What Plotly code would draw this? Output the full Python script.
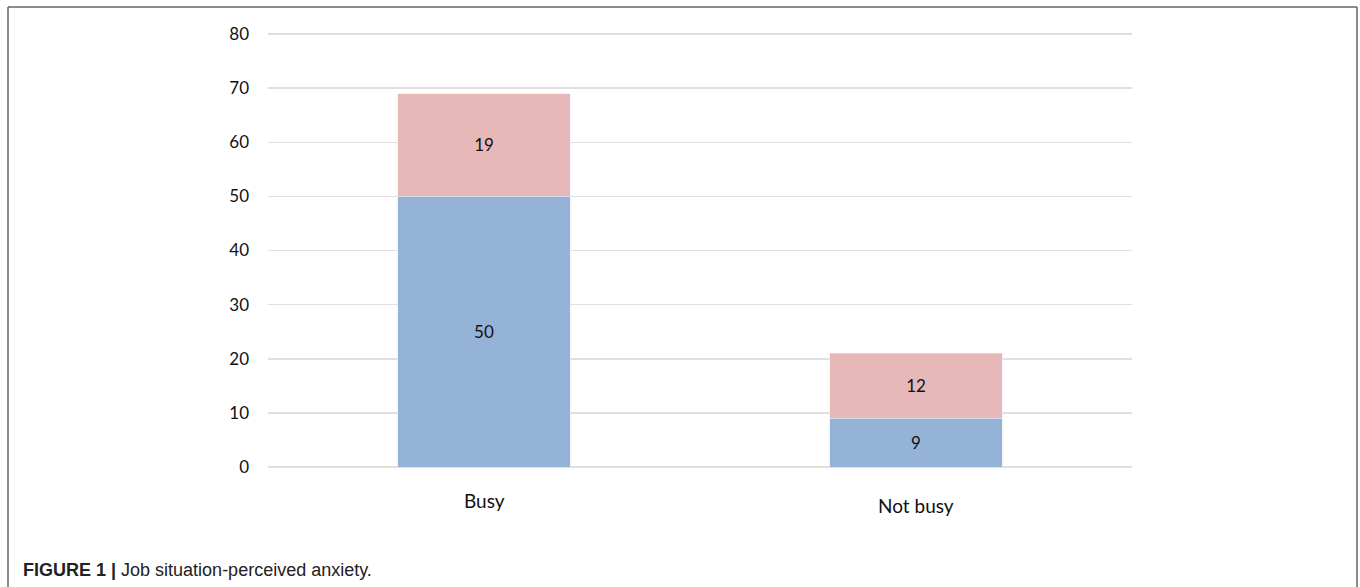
import plotly.graph_objects as go

categories = ["Busy", "Not busy"]
series_a = [50, 9]    # blue, bottom
series_b = [19, 12]   # pink, top
y_ticks = [0, 10, 20, 30, 40, 50, 60, 70, 80]

FONT = "Lato, Open Sans, sans-serif"

fig = go.Figure()
fig.add_trace(go.Bar(x=categories, y=series_a, marker_color="#95B3D7",
                     text=[str(v) for v in series_a], textposition="inside",
                     insidetextanchor="middle", textangle=0,
                     textfont=dict(family=FONT, size=17, color="#111111"),
                     width=0.4, showlegend=False, hoverinfo="skip"))
fig.add_trace(go.Bar(x=categories, y=series_b, marker_color="#E6B9B8",
                     text=[str(v) for v in series_b], textposition="inside",
                     insidetextanchor="middle", textangle=0,
                     textfont=dict(family=FONT, size=17, color="#111111"),
                     width=0.4, showlegend=False, hoverinfo="skip"))

T, B = 32, 120
PH = 587 - T - B  # plot height in px
fig.update_layout(
    barmode="stack",
    width=1360, height=587,
    margin=dict(l=268, r=228, t=T, b=B),
    paper_bgcolor="white", plot_bgcolor="white",
    font=dict(family=FONT, size=17, color="#111111"),
)
fig.update_xaxes(showticklabels=False, showgrid=False, showline=False, zeroline=False)
fig.update_yaxes(range=[0, 80 * (435 / 433)], tickvals=y_ticks, showgrid=True, gridcolor="#E0E0E0",
                 gridwidth=1.5, zeroline=True, zerolinecolor="#E0E0E0", zerolinewidth=1.5,
                 showline=False, ticks="", ticklabelstandoff=18,
                 tickfont=dict(family=FONT, size=17, color="#111111"))

yshifts = [0, -5]
for c, ys in zip(categories, yshifts):
    fig.add_annotation(x=c, y=0, xref="x", yref="y", text=c, showarrow=False,
                       yanchor="top", yshift=-20 + ys,
                       font=dict(family=FONT, size=19, color="#111111"))

def px(xp):
    return (xp - 268) / 864
def py(yp):
    return (467 - yp) / PH

# caption
fig.add_annotation(xref="paper", yref="paper", x=px(21), y=py(570),
                   xanchor="left", yanchor="middle", showarrow=False,
                   text="<b>FIGURE 1 |</b> Job situation-perceived anxiety.",
                   font=dict(family="Liberation Sans, Arial, sans-serif", size=18, color="#222222"))

# frame (left, top, right)
line = dict(color="#666666", width=1.5)
fig.add_shape(type="line", xref="paper", yref="paper", x0=px(8), x1=px(8), y0=py(590), y1=py(7), line=line)
fig.add_shape(type="line", xref="paper", yref="paper", x0=px(8), x1=px(1357), y0=py(7), y1=py(7), line=line)
fig.add_shape(type="line", xref="paper", yref="paper", x0=px(1357), x1=px(1357), y0=py(590), y1=py(7), line=line)

fig.write_html("out.html", config={"displayModeBar": False, "staticPlot": True},
               post_script="document.body.style.margin='0';document.body.style.overflow='hidden';")
